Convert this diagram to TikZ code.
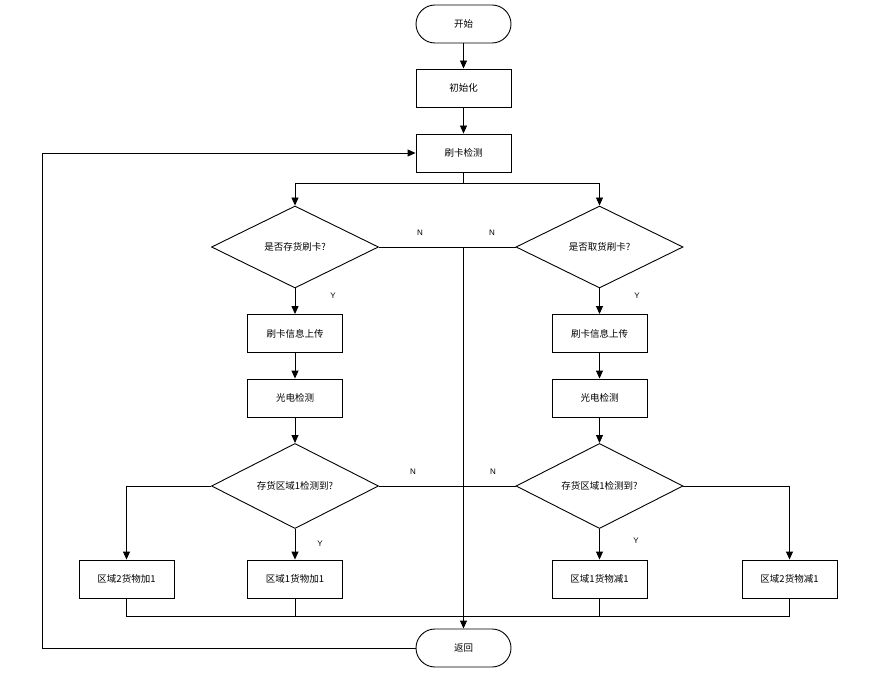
\documentclass[tikz,border=0pt]{standalone}
\usepackage{fontspec}
\setmainfont{Noto Sans CJK SC}
\newfontfamily\latinlab{Liberation Sans}
\usetikzlibrary{arrows.meta,shapes.geometric}
\begin{document}
\begin{tikzpicture}[x=1pt,y=-1pt,
  line width=0.9pt,
  every node/.style={font=\fontsize{9.5pt}{11pt}\selectfont},
  procbox/.style={draw,rectangle,minimum width=95pt,minimum height=38pt,inner sep=0pt},
  termbox/.style={draw,rectangle,rounded corners=19pt,minimum width=95pt,minimum height=38pt,inner sep=0pt},
  decbox/.style={draw,diamond,minimum width=167pt,minimum height=82pt,inner sep=0pt},
  arr/.style={-{Triangle[length=8pt,width=7pt]}},
  lab/.style={font=\latinlab\fontsize{8pt}{9pt}\selectfont,inner sep=0pt}]
\useasboundingbox (0,0) rectangle (873,676);
\fill[white] (0,0) rectangle (873,676);
% nodes
\node[termbox] (start) at (463.5,24) {开始};
\node[procbox] (init) at (463.5,88) {初始化};
\node[procbox] (detect) at (463.5,153) {刷卡检测};
\node[decbox] (d1L) at (295,247) {是否存货刷卡?};
\node[decbox] (d1R) at (599.5,247) {是否取货刷卡?};
\node[procbox] (upL) at (295,333.5) {刷卡信息上传};
\node[procbox] (upR) at (599.5,333.5) {刷卡信息上传};
\node[procbox] (pdL) at (295,398) {光电检测};
\node[procbox] (pdR) at (599.5,398) {光电检测};
\node[decbox] (d2L) at (295,486) {存货区域1检测到?};
\node[decbox] (d2R) at (599.5,486) {存货区域1检测到?};
\node[procbox] (a2) at (126.5,579) {区域2货物加1};
\node[procbox] (a1) at (295,579) {区域1货物加1};
\node[procbox] (s1) at (599.5,579) {区域1货物减1};
\node[procbox] (s2) at (789.5,579) {区域2货物减1};
\node[termbox] (ret) at (463.5,648) {返回};
% coordinates
\coordinate (split) at (463.5,183);
\coordinate (j1) at (463.5,247);
\coordinate (j2) at (463.5,486);
\coordinate (ba2) at (126.5,616);
\coordinate (ba1) at (295,616);
\coordinate (bs1) at (599.5,616);
\coordinate (bs2) at (789.5,616);
\coordinate (loop) at (42,648);
% connectors
\draw[arr] (start) -- (init);
\draw[arr] (init) -- (detect);
\draw (detect.south) -- (split);
\draw[arr] (split) -| (d1L.north);
\draw[arr] (split) -| (d1R.north);
\draw (d1L.east) -- (j1);
\draw (d1R.west) -- (j1);
\draw[arr] (j1) -- (ret.north);
\draw[arr] (d1L.south) -- (upL.north);
\draw[arr] (d1R.south) -- (upR.north);
\draw[arr] (upL) -- (pdL);
\draw[arr] (upR) -- (pdR);
\draw[arr] (pdL.south) -- (d2L.north);
\draw[arr] (pdR.south) -- (d2R.north);
\draw[arr] (d2L.west) -| (a2.north);
\draw[arr] (d2L.south) -- (a1.north);
\draw (d2L.east) -- (j2);
\draw (d2R.west) -- (j2);
\draw[arr] (d2R.south) -- (s1.north);
\draw[arr] (d2R.east) -| (s2.north);
\draw (a2.south) -- (ba2) -- (bs2) -- (s2.south);
\draw (a1.south) -- (ba1);
\draw (s1.south) -- (bs1);
\draw[arr] (ret.west) -- (loop) |- (detect.west);
% labels
\node[lab] (nL1) at (420,233) {N};
\node[lab] (nR1) at (492,233) {N};
\node[lab] (yL1) at (333,296) {Y};
\node[lab] (yR1) at (637,296) {Y};
\node[lab] (nL2) at (413,472) {N};
\node[lab] (nR2) at (493,472) {N};
\node[lab] (yL2) at (320,544) {Y};
\node[lab] (yR2) at (636,541) {Y};
\end{tikzpicture}
\end{document}
